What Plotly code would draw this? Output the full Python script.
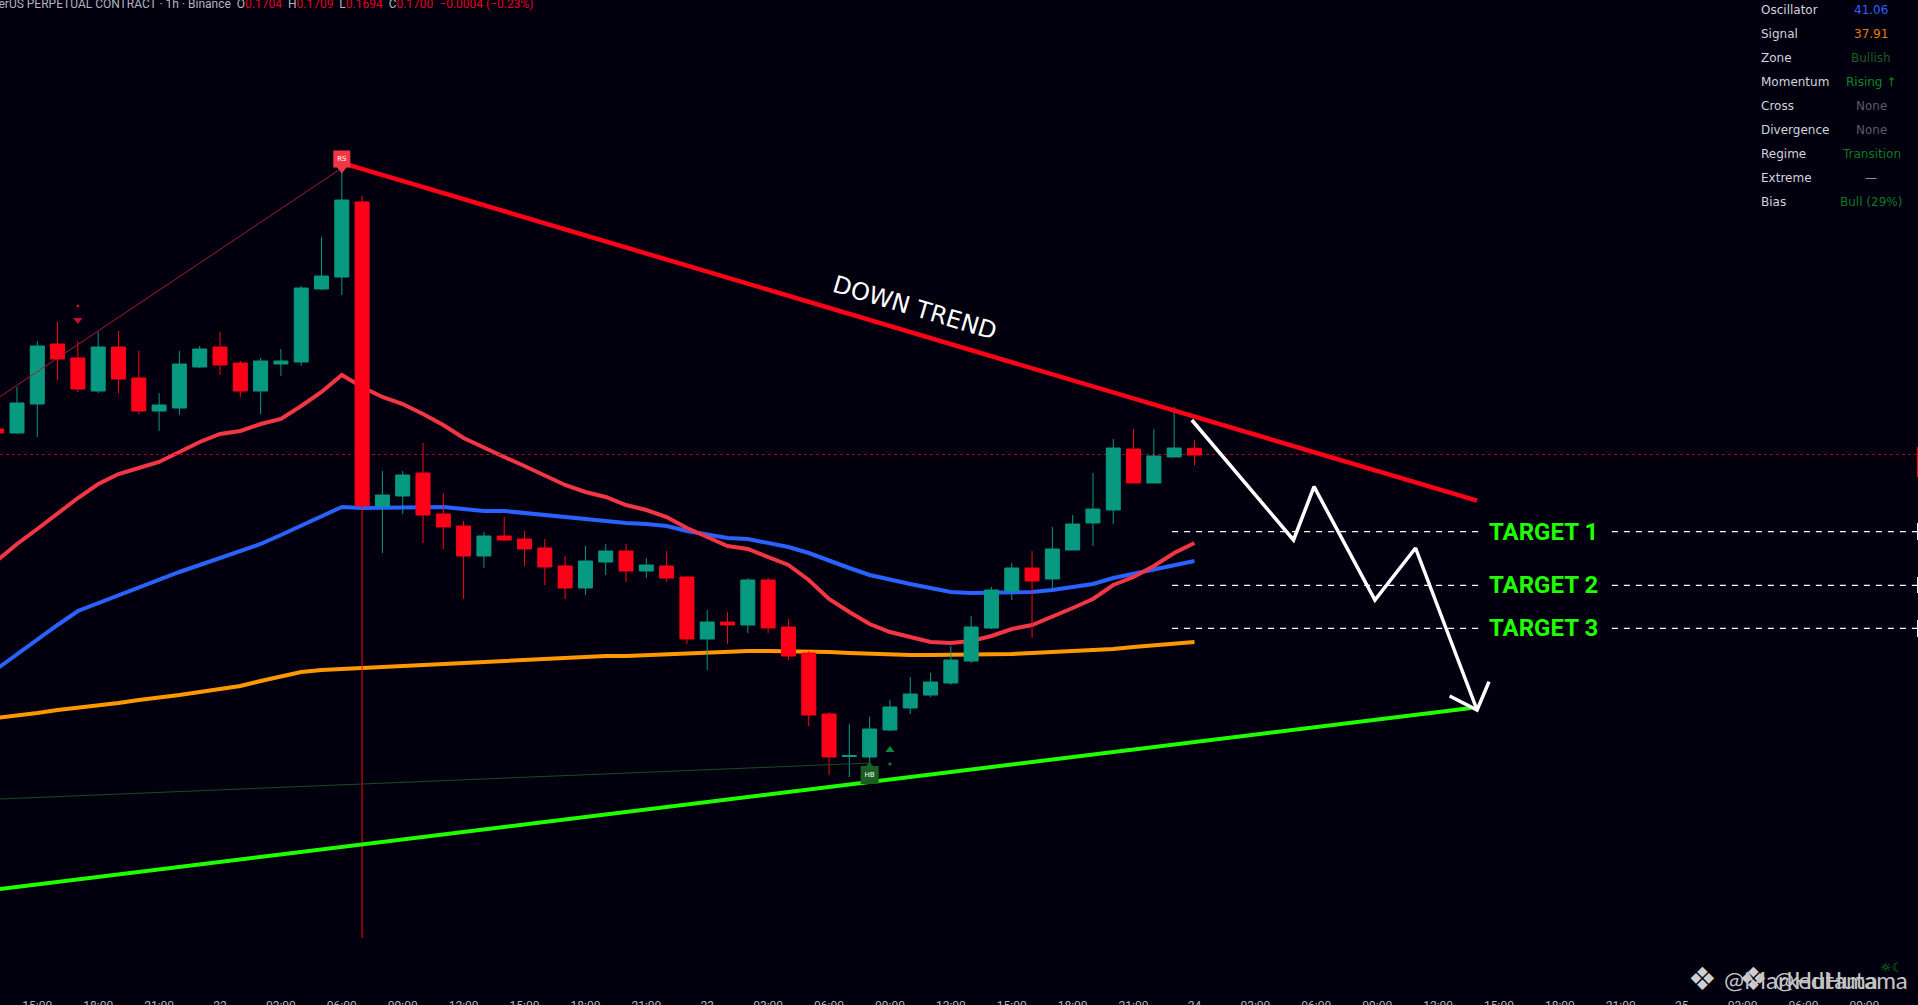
import plotly.graph_objects as go

# hourly bars, 0 = 15:00 on the 21st
bars = list(range(-2, 58))
opens = [0.17156, 0.17132, 0.17306, 0.17666, 0.17582, 0.17384, 0.17648, 0.17462, 0.17264, 0.17282,
         0.17528, 0.17648, 0.17552, 0.17384, 0.17546, 0.17558, 0.17996, 0.18068, 0.18518, 0.16694,
         0.16754, 0.16892, 0.16646, 0.16574, 0.16394, 0.16514, 0.16496, 0.16442, 0.16334, 0.16202,
         0.16358, 0.16424, 0.16304, 0.16334, 0.16268, 0.15896, 0.15998, 0.15980, 0.16250, 0.15968,
         0.15812, 0.15446, 0.15191, 0.15188, 0.15350, 0.15482, 0.15560, 0.15632, 0.15764, 0.15962,
         0.16184, 0.16322, 0.16256, 0.16430, 0.16592, 0.16670, 0.17036, 0.16832, 0.16988, 0.17040]
highs = [0.17180, 0.17408, 0.17684, 0.17798, 0.17684, 0.17738, 0.17744, 0.17624, 0.17372, 0.17624,
         0.17654, 0.17738, 0.17564, 0.17582, 0.17636, 0.18014, 0.18308, 0.18722, 0.18554, 0.16904,
         0.16904, 0.17072, 0.16772, 0.16604, 0.16538, 0.16628, 0.16544, 0.16496, 0.16394, 0.16454,
         0.16466, 0.16466, 0.16382, 0.16424, 0.16268, 0.16070, 0.16058, 0.16262, 0.16262, 0.16016,
         0.15824, 0.15458, 0.15386, 0.15428, 0.15530, 0.15668, 0.15692, 0.15854, 0.16034, 0.16208,
         0.16352, 0.16424, 0.16568, 0.16640, 0.16892, 0.17096, 0.17156, 0.17156, 0.17288, 0.17090]
lows = [0.17114, 0.17126, 0.17108, 0.17450, 0.17378, 0.17372, 0.17372, 0.17246, 0.17144, 0.17240,
        0.17522, 0.17480, 0.17348, 0.17246, 0.17474, 0.17534, 0.17990, 0.17960, 0.14102, 0.16412,
        0.16646, 0.16472, 0.16436, 0.16136, 0.16322, 0.16484, 0.16334, 0.16220, 0.16136, 0.16160,
        0.16280, 0.16238, 0.16262, 0.16238, 0.15866, 0.15710, 0.15866, 0.15932, 0.15932, 0.15770,
        0.15374, 0.15080, 0.15068, 0.15128, 0.15344, 0.15446, 0.15548, 0.15620, 0.15752, 0.15956,
        0.16130, 0.15902, 0.16202, 0.16430, 0.16454, 0.16586, 0.16832, 0.16832, 0.16988, 0.16940]
closes = [0.17132, 0.17312, 0.17654, 0.17576, 0.17396, 0.17648, 0.17456, 0.17264, 0.17300, 0.17546,
          0.17636, 0.17540, 0.17384, 0.17564, 0.17564, 0.18002, 0.18074, 0.18530, 0.16694, 0.16760,
          0.16880, 0.16640, 0.16568, 0.16394, 0.16514, 0.16490, 0.16436, 0.16328, 0.16202, 0.16364,
          0.16424, 0.16304, 0.16340, 0.16262, 0.15896, 0.15998, 0.15980, 0.16250, 0.15962, 0.15794,
          0.15440, 0.15188, 0.15197, 0.15356, 0.15488, 0.15566, 0.15638, 0.15770, 0.15968, 0.16190,
          0.16322, 0.16244, 0.16436, 0.16586, 0.16676, 0.17042, 0.16832, 0.16994, 0.17042, 0.17000]

ema_fast = [0.16364, 0.16466, 0.16556, 0.16652, 0.16742, 0.16826, 0.16886, 0.16922, 0.16958, 0.17018,
            0.17078, 0.17126, 0.17144, 0.17186, 0.17216, 0.17294, 0.17378, 0.17480, 0.17408, 0.17348,
            0.17306, 0.17246, 0.17180, 0.17102, 0.17042, 0.16988, 0.16934, 0.16880, 0.16820, 0.16778,
            0.16748, 0.16700, 0.16670, 0.16628, 0.16562, 0.16508, 0.16454, 0.16436, 0.16388, 0.16340,
            0.16250, 0.16136, 0.16058, 0.15986, 0.15938, 0.15908, 0.15878, 0.15872, 0.15884, 0.15914,
            0.15956, 0.15980, 0.16028, 0.16082, 0.16136, 0.16220, 0.16268, 0.16334, 0.16412, 0.16472]
ema_mid = [0.15716, 0.15806, 0.15890, 0.15980, 0.16064, 0.16112, 0.16154, 0.16202, 0.16250, 0.16298,
           0.16340, 0.16382, 0.16424, 0.16466, 0.16520, 0.16574, 0.16628, 0.16688, 0.16682, 0.16682,
           0.16688, 0.16688, 0.16688, 0.16676, 0.16664, 0.16664, 0.16652, 0.16640, 0.16622, 0.16610,
           0.16604, 0.16592, 0.16586, 0.16574, 0.16544, 0.16520, 0.16502, 0.16496, 0.16472, 0.16448,
           0.16412, 0.16364, 0.16322, 0.16280, 0.16250, 0.16226, 0.16202, 0.16178, 0.16172, 0.16172,
           0.16172, 0.16178, 0.16190, 0.16208, 0.16226, 0.16262, 0.16286, 0.16310, 0.16334, 0.16364]
ema_slow = [0.15422, 0.15434, 0.15452, 0.15470, 0.15482, 0.15500, 0.15512, 0.15530, 0.15542, 0.15560,
            0.15578, 0.15596, 0.15614, 0.15644, 0.15674, 0.15698, 0.15710, 0.15716, 0.15728, 0.15734,
            0.15740, 0.15746, 0.15752, 0.15758, 0.15764, 0.15770, 0.15776, 0.15782, 0.15782, 0.15788,
            0.15794, 0.15794, 0.15800, 0.15806, 0.15812, 0.15818, 0.15818, 0.15824, 0.15824, 0.15824,
            0.15818, 0.15818, 0.15812, 0.15806, 0.15806, 0.15800, 0.15800, 0.15800, 0.15800, 0.15806,
            0.15806, 0.15812, 0.15818, 0.15824, 0.15830, 0.15836, 0.15848, 0.15860, 0.15866, 0.15878]

tick_bars = list(range(0, 91, 3))
tick_labels = ['15:00', '18:00', '21:00', '22', '03:00', '06:00', '09:00', '12:00', '15:00', '18:00', '21:00',
               '23', '03:00', '06:00', '09:00', '12:00', '15:00', '18:00', '21:00',
               '24', '03:00', '06:00', '09:00', '12:00', '15:00', '18:00', '21:00',
               '25', '03:00', '06:00', '09:00']

# drawn lines
down_x = [15.24, 70.92]
down_y = [0.18744, 0.16726]
up_x = [-1.84, 70.63]
up_y = [0.14396, 0.15482]
path_x = [56.87, 61.88, 62.89, 65.89, 67.89, 70.92]
path_y = [0.17210, 0.16490, 0.16810, 0.16130, 0.16442, 0.15470]
head_x = [69.57, 70.92, 71.51]
head_y = [0.15554, 0.15470, 0.15640]
swing_high_x = [-1.84, 15]
swing_high_y = [0.17350, 0.18722]
swing_low_x = [-1.84, 41]
swing_low_y = [0.14936, 0.15152]
last_price = 0.17003
target_names = ['TARGET 1', 'TARGET 2', 'TARGET 3']
target_prices = [0.16540, 0.16218, 0.15960]

# side table
table_names = ['Oscillator', 'Signal', 'Zone', 'Momentum', 'Cross', 'Divergence', 'Regime', 'Extreme', 'Bias']
table_values = ['41.06', '37.91', 'Bullish', 'Rising ↑', 'None', 'None', 'Transition', '—', 'Bull (29%)']
table_colors = ['#2962ff', '#e67e00', '#1b5e20', '#0f8a20', '#5d5a66', '#5d5a66', '#0f7a1f', '#8f8f96', '#0f7a1f']

BG = '#02000f'
GREEN = '#089981'
RED = '#ff0019'
X_RANGE = [-1.837, 92.64]
Y_RANGE = [0.13748, 0.1973]
PLOT_H = 997
W = 1918


def line(x, y, color, width, axis='y3', dash='solid'):
    return go.Scatter(x=x, y=y, mode='lines', yaxis=axis, hoverinfo='skip',
                      line=dict(color=color, width=width, dash=dash))


def mark(x, y, symbol, size, color):
    return go.Scatter(x=[x], y=[y], mode='markers', yaxis='y3', hoverinfo='skip',
                      marker=dict(symbol=symbol, size=size, color=color, line=dict(width=0)))


fig = go.Figure()

# moving averages sit under the candles
fig.add_trace(line(bars, ema_slow, '#ff9800', 4, 'y'))
fig.add_trace(line(bars, ema_mid, '#2962ff', 4, 'y'))
fig.add_trace(line(bars, ema_fast, '#f23645', 4, 'y'))
fig.add_trace(line(X_RANGE, [last_price, last_price], '#b0001c', 1, 'y', 'dot'))

fig.add_trace(go.Candlestick(x=bars, open=opens, high=highs, low=lows, close=closes, yaxis='y2',
                             whiskerwidth=0, hoverinfo='skip',
                             increasing=dict(line=dict(color=GREEN, width=1), fillcolor=GREEN),
                             decreasing=dict(line=dict(color=RED, width=1), fillcolor=RED)))

# thin swing lines
fig.add_trace(line(swing_high_x, swing_high_y, '#a3202e', 1))
fig.add_trace(line(swing_low_x, swing_low_y, '#1d4a24', 1))

# target levels, broken around their labels
for price in target_prices:
    fig.add_trace(line([55.9, 71.17, None, 77.56, X_RANGE[1]], [price, price, None, price, price],
                       'white', 1.2, 'y3', '6px,6px'))

fig.add_trace(line(down_x, down_y, RED, 4.5))
fig.add_trace(line(up_x, up_y, '#1fff00', 4))
fig.add_trace(line(path_x, path_y, 'white', 3.5))
fig.add_trace(line(head_x, head_y, 'white', 3.5))

# price tags cut off by the right edge
tag_prices = [0.17048, 0.16868, None, 0.16592, 0.16490, None, 0.16268, 0.16172, None, 0.16010, 0.15908]
tag_x = [X_RANGE[1] if p is not None else None for p in tag_prices]
fig.add_trace(line(tag_x[:2], tag_prices[:2], RED, 2))
fig.add_trace(line(tag_x[3:], tag_prices[3:], 'white', 2))

# signal markers
fig.add_trace(mark(15, 0.18716, 'triangle-down', 9, '#f23645'))
fig.add_trace(go.Scatter(x=[15], y=[0.18776], mode='markers+text', yaxis='y3', hoverinfo='skip', text=['RS'],
                         textposition='middle center', textfont=dict(size=7, color='white', family='DejaVu Sans'),
                         marker=dict(symbol='square', size=17, color='#f23645')))
fig.add_trace(mark(41, 0.15134, 'triangle-up', 9, '#1b5e20'))
fig.add_trace(go.Scatter(x=[41], y=[0.15080], mode='markers+text', yaxis='y3', hoverinfo='skip', text=['HB'],
                         textposition='middle center', textfont=dict(size=7, color='white', family='DejaVu Sans'),
                         marker=dict(symbol='square', size=18, color='#1b5e20')))
fig.add_trace(mark(2, 0.17810, 'triangle-down', 8, '#c8102e'))
fig.add_trace(mark(2, 0.17894, 'circle', 3, '#c8102e'))
fig.add_trace(mark(42, 0.15230, 'triangle-up', 8, '#138a36'))
fig.add_trace(mark(42, 0.15146, 'circle', 3, '#138a36'))

notes = []


def px_note(x, y, text, size, color, family='DejaVu Sans', anchor='left'):
    notes.append(dict(xref='paper', yref='paper', x=x / W, y=1 - y / PLOT_H, text=text, showarrow=False,
                      xanchor=anchor, yanchor='middle', align=anchor,
                      font=dict(size=size, color=color, family=family)))


header = ('TetherUS PERPETUAL CONTRACT · 1h · Binance  '
          'O<span style="color:#e0001f">0.1704</span>  H<span style="color:#e0001f">0.1709</span>  '
          'L<span style="color:#e0001f">0.1694</span>  C<span style="color:#e0001f">0.1700</span>  '
          '<span style="color:#e0001f">−0.0004 (−0.23%)</span>')
px_note(535, 4, header, 12, '#b2b5be', 'Roboto', 'right')

for i, (name, value, color) in enumerate(zip(table_names, table_values, table_colors)):
    y = 10 + i * 24
    px_note(1758.5, y, name, 12, '#d1d4dc')
    px_note(1871, y, value, 12, color, anchor='center')

# watermark, two copies stacked on each other
px_note(1702, 979, '❖', 32, '#cfcfcf', anchor='center')
px_note(1753, 979, '❖', 32, '#cfcfcf', anchor='center')
px_note(1722, 979, '@MarkedHutama', 24, '#c4c4c4', 'Lato')
px_note(1772, 979, '@Hutama', 24, '#c4c4c4', 'Lato')
px_note(1878, 967, '☼☾', 13, '#0f8a20')

for name, price in zip(target_names, target_prices):
    notes.append(dict(x=74.2, y=price, yref='y3', text='<b>%s</b>' % name, showarrow=False,
                      font=dict(size=24, color='#1fff00', family='Roboto')))

notes.append(dict(x=43.24, y=0.17882, yref='y3', text='DOWN TREND', showarrow=False, textangle=16.6,
                  font=dict(size=24, color='white', family='DejaVu Sans')))

fig.update_layout(
    width=1918, height=1005,
    margin=dict(l=0, r=0, t=0, b=8),
    paper_bgcolor=BG, plot_bgcolor=BG,
    showlegend=False, boxgap=0.31, boxgroupgap=0,
    annotations=notes,
    xaxis=dict(range=X_RANGE, showgrid=False, zeroline=False, showline=False, rangeslider=dict(visible=False),
               automargin=False, tickmode='array', tickvals=tick_bars, ticktext=tick_labels, ticklen=0,
               tickfont=dict(size=12, color='#b2b5be', family='Roboto')),
    yaxis=dict(range=Y_RANGE, visible=False),
    yaxis2=dict(range=Y_RANGE, visible=False, overlaying='y'),
    yaxis3=dict(range=Y_RANGE, visible=False, overlaying='y'),
)

fig.write_html("out.html", config=dict(displayModeBar=False),
               post_script="document.body.style.margin='0';document.body.style.overflow='hidden';document.body.style.background='%s';" % BG)
